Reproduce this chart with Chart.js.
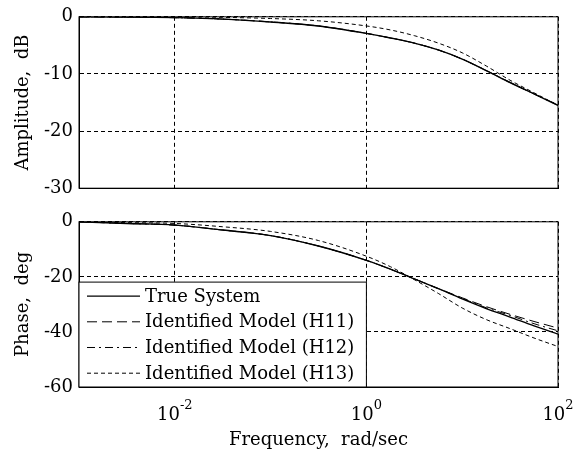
<!DOCTYPE html>
<html>
<head>
<meta charset="utf-8">
<script src="https://cdn.jsdelivr.net/npm/chart.js@4.4.0/dist/chart.umd.min.js"></script>
<style>
    body { margin: 0; background: #fff; }
    #wrap { position: relative; width: 573px; height: 452px; }
    #ampBox { position: absolute; left: 0; top: 0; width: 573px; height: 205px; }
    #phaseBox { position: absolute; left: 0; top: 205px; width: 573px; height: 247px; }
</style>
</head>
<body>
<div id="wrap">
    <div id="ampBox"><canvas id="ampChart"></canvas></div>
    <div id="phaseBox"><canvas id="phaseChart"></canvas></div>
</div>
<script>
// frequency grid, rad/sec (quarter/half-decade steps)
const freq = [0.001, 0.00316, 0.01, 0.0316, 0.1, 0.316, 1, 1.78, 3.16, 5.62, 10, 17.8, 31.6, 56.2, 100];

// amplitude, dB
const ampTrue = [0, -0.05, -0.15, -0.4, -0.9, -1.6, -2.9, -3.7, -4.6, -5.8, -7.4, -9.4, -11.5, -13.5, -15.5];
const ampH11  = [0, -0.05, -0.15, -0.4, -0.9, -1.6, -2.9, -3.7, -4.6, -5.8, -7.4, -9.4, -11.5, -13.5, -15.4];
const ampH12  = [0, -0.05, -0.15, -0.4, -0.9, -1.6, -2.9, -3.7, -4.6, -5.8, -7.4, -9.4, -11.5, -13.5, -15.5];
const ampH13  = [0, 0, 0, -0.1, -0.3, -0.7, -1.6, -2.3, -3.3, -4.6, -6.3, -8.6, -11.1, -13.3, -15.5];

// phase, deg
const phTrue = [0, -0.6, -1.2, -3.0, -5.0, -8.8, -14.0, -17.2, -20.7, -24.3, -28.0, -31.5, -34.6, -37.8, -40.8];
const phH11  = [0, -0.6, -1.2, -3.0, -5.0, -8.8, -14.0, -17.2, -20.7, -24.2, -27.6, -30.8, -33.6, -36.2, -38.6];
const phH12  = [0, -0.6, -1.2, -3.0, -5.0, -8.8, -14.0, -17.2, -20.7, -24.3, -27.8, -31.2, -34.0, -37.0, -39.6];
const phH13  = [0, -0.3, -0.6, -1.8, -3.5, -6.8, -12.5, -16.3, -21.0, -26.0, -31.3, -35.5, -38.8, -42.2, -45.3];

const seriesNames = ['True System', 'Identified Model (H11)', 'Identified Model (H12)', 'Identified Model (H13)'];
const seriesDash = [[], [10, 5], [8, 4, 2, 4], [4, 3]];
const seriesWidth = [1.4, 1, 1, 1];

const xTickValues = [0.01, 1, 100];
const xTickExponents = ['-2', '0', '2'];

const FONT = { family: "'DejaVu Serif', serif", size: 18 };
Chart.defaults.color = '#000';
Chart.defaults.font.family = FONT.family;

function makeDatasets(lists) {
    return lists.map((vals, i) => ({
        label: seriesNames[i],
        data: freq.map((f, k) => ({ x: f, y: vals[k] })),
        borderColor: '#000',
        borderWidth: seriesWidth[i],
        borderDash: seriesDash[i],
        pointRadius: 0,
        fill: false,
        cubicInterpolationMode: 'monotone'
    }));
}

// solid frame round the plot area
const frame = {
    id: 'frame',
    afterDraw(chart) {
        const { ctx, chartArea: a } = chart;
        ctx.save();
        ctx.strokeStyle = '#000';
        ctx.lineWidth = 1;
        ctx.strokeRect(a.left, a.top, a.right - a.left, a.bottom - a.top);
        ctx.restore();
    }
};

// 10^n tick labels with a raised exponent
const powerLabels = {
    id: 'powerLabels',
    afterDraw(chart) {
        const { ctx, chartArea: a, scales } = chart;
        const baseFont = FONT.size + 'px ' + FONT.family;
        const expFont = '13px ' + FONT.family;
        ctx.save();
        ctx.fillStyle = '#000';
        ctx.textBaseline = 'alphabetic';
        ctx.textAlign = 'left';
        xTickValues.forEach((v, i) => {
            ctx.font = baseFont;
            const wBase = ctx.measureText('10').width;
            ctx.font = expFont;
            const wExp = ctx.measureText(xTickExponents[i]).width;
            const x0 = scales.x.getPixelForValue(v) - (wBase + wExp) / 2;
            const yBase = a.bottom + 33;
            ctx.font = baseFont;
            ctx.fillText('10', x0, yBase);
            ctx.font = expFont;
            ctx.fillText(xTickExponents[i], x0 + wBase, yBase - 11);
        });
        ctx.restore();
    }
};

// boxed legend in the lower left of the phase plot
const boxLegend = {
    id: 'boxLegend',
    afterDraw(chart) {
        const { ctx, chartArea: a, scales } = chart;
        const left = a.left;
        const right = scales.x.getPixelForValue(1);
        const top = scales.y.getPixelForValue(-21.9);
        const bottom = a.bottom;
        ctx.save();
        ctx.fillStyle = '#fff';
        ctx.fillRect(left, top, right - left, bottom - top);
        ctx.strokeStyle = '#000';
        ctx.lineWidth = 1;
        ctx.strokeRect(left, top, right - left, bottom - top);
        ctx.font = FONT.size + 'px ' + FONT.family;
        ctx.textBaseline = 'middle';
        ctx.fillStyle = '#000';
        chart.data.datasets.forEach((ds, i) => {
            const y = top + 14 + i * 25.7;
            ctx.beginPath();
            ctx.setLineDash(ds.borderDash);
            ctx.lineWidth = ds.borderWidth;
            ctx.moveTo(left + 8, y);
            ctx.lineTo(left + 61, y);
            ctx.stroke();
            ctx.setLineDash([]);
            ctx.fillText(ds.label, left + 66, y + 1);
        });
        ctx.restore();
    }
};

function xScale(showLabels) {
    return {
        type: 'logarithmic',
        min: 0.001,
        max: 100,
        afterBuildTicks: (axis) => { axis.ticks = xTickValues.map(v => ({ value: v })); },
        grid: { color: '#000', lineWidth: 1, drawTicks: false },
        border: { display: true, color: '#000', dash: [4, 3] },
        ticks: { display: false },
        title: {
            display: showLabels,
            text: 'Frequency,  rad/sec',
            font: FONT,
            padding: { top: 0, bottom: 1 }
        },
        afterFit: (scale) => {
            scale.height = showLabels ? 65 : 0;
            scale.paddingLeft = 0;
            scale.paddingRight = 0;
        }
    };
}

function yScale(min, step, titleText) {
    return {
        min: min,
        max: 0,
        ticks: { stepSize: step, padding: 6, font: FONT },
        grid: { color: '#000', lineWidth: 1, drawTicks: false },
        border: { display: true, color: '#000', dash: [4, 3] },
        title: { display: true, text: titleText, font: FONT, padding: { top: 13, bottom: 0 } },
        afterFit: (scale) => { scale.width = 79; }
    };
}

function baseOptions(padTop, padBottom, showX, yMin, yStep, yTitle) {
    return {
        responsive: true,
        maintainAspectRatio: false,
        animation: false,
        layout: { padding: { left: 0, right: 15, top: padTop, bottom: padBottom } },
        plugins: { legend: { display: false }, tooltip: { enabled: false } },
        scales: { x: xScale(showX), y: yScale(yMin, yStep, yTitle) }
    };
}

new Chart(document.getElementById('ampChart'), {
    type: 'line',
    data: { datasets: makeDatasets([ampTrue, ampH11, ampH12, ampH13]) },
    options: baseOptions(15, 9, false, -30, 10, 'Amplitude,  dB'),
    plugins: [frame]
});

new Chart(document.getElementById('phaseChart'), {
    type: 'line',
    data: { datasets: makeDatasets([phTrue, phH11, phH12, phH13]) },
    options: baseOptions(11, 0, true, -60, 20, 'Phase,  deg'),
    plugins: [frame, powerLabels, boxLegend]
});
</script>
</body>
</html>
